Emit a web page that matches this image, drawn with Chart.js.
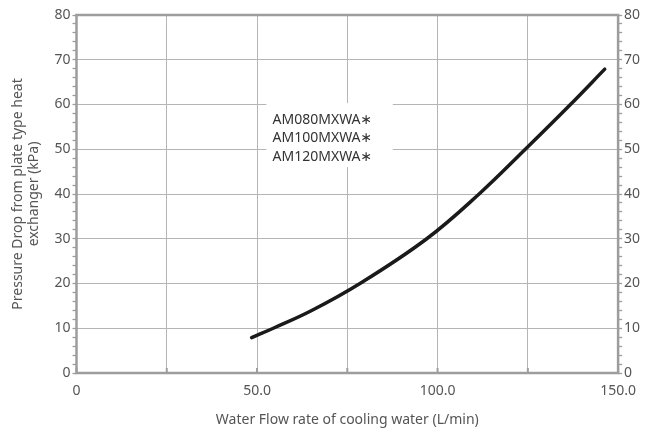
<!DOCTYPE html>
<html>
<head>
<meta charset="utf-8">
<script src="https://cdn.jsdelivr.net/npm/chart.js@4"></script>
<style>
html,body{margin:0;padding:0;background:#fff;}
#wrap{width:646px;height:430px;position:relative;}
</style>
</head>
<body>
<div id="wrap"><canvas id="c" width="646" height="430"></canvas></div>
<script>
// Data
const flowRates = [48.5, 54.5, 65, 78.5, 97, 111.5, 124.3, 136.8, 146.3];
const pressureDrops = [7.9, 10, 13.9, 20, 30, 40, 50, 60, 67.9];
const xTickLabels = {0: '0', 50: '50.0', 100: '100.0', 150: '150.0'};
const yTickLabels = [0, 10, 20, 30, 40, 50, 60, 70, 80];
const modelLabels = ['AM080MXWA\u2217', 'AM100MXWA\u2217', 'AM120MXWA\u2217'];
const xTitle = 'Water Flow rate of cooling water (L/min)';
const yTitle = ['Pressure Drop from plate type heat', 'exchanger (kPa)'];

const FONT = '"Noto Sans", "DejaVu Sans", sans-serif';
const AXIS = '#9d9d9d';
const GRID = '#b5b5b5';
const TXT = '#555555';

const framePlugin = {
  id: 'frame',
  afterDatasetsDraw(chart) {
    const {ctx, chartArea: a, scales} = chart;
    ctx.save();
    // label box (positioned in data coordinates)
    const x = scales.x, y = scales.y;
    const bx0 = x.getPixelForValue(52.6), bx1 = x.getPixelForValue(87.6);
    const by0 = y.getPixelForValue(60.3), by1 = y.getPixelForValue(46);
    ctx.fillStyle = '#fff';
    ctx.fillRect(bx0, by0, bx1 - bx0, by1 - by0);
    ctx.fillStyle = '#333';
    ctx.font = '14px ' + FONT;
    ctx.textBaseline = 'middle';
    ctx.textAlign = 'left';
    const tx = x.getPixelForValue(54.3);
    const ys = [56.5, 52.5, 48.3];
    modelLabels.forEach((t, i) => ctx.fillText(t, tx, y.getPixelForValue(ys[i])));
    // frame
    ctx.strokeStyle = AXIS;
    ctx.lineWidth = 2.5;
    ctx.strokeRect(a.left, a.top, a.right - a.left, a.bottom - a.top);
    // inner x ticks
    ctx.lineWidth = 2;
    x.ticks.forEach(t => {
      const px = x.getPixelForValue(t.value);
      ctx.beginPath(); ctx.moveTo(px, a.bottom); ctx.lineTo(px, a.bottom - 5); ctx.stroke();
    });
    ctx.restore();
  }
};

new Chart(document.getElementById('c'), {
  type: 'scatter',
  data: {
    datasets: [{
      data: flowRates.map((q, i) => ({x: q, y: pressureDrops[i]})),
      showLine: true,
      borderColor: '#1a1a1a',
      borderWidth: 3.5,
      borderCapStyle: 'round',
      pointRadius: 0,
      tension: 0.4,
      fill: false
    }]
  },
  options: {
    responsive: false,
    animation: false,
    devicePixelRatio: 1,
    layout: {padding: {top: 15, left: 0, right: 0, bottom: 0}},
    plugins: {legend: {display: false}, tooltip: {enabled: false}},
    scales: {
      x: {
        type: 'linear', min: 0, max: 150,
        afterFit(s) { s.height = 57; },
        border: {display: false},
        grid: {color: GRID, lineWidth: 1, drawTicks: false},
        ticks: {
          stepSize: 25, autoSkip: false, maxRotation: 0, padding: 10,
          color: TXT, font: {family: FONT, size: 14},
          callback: v => (v in xTickLabels ? xTickLabels[v] : '')
        },
        title: {display: true, text: xTitle, color: TXT, font: {family: FONT, size: 14}, padding: {top: 4, bottom: 2}}
      },
      y: {
        type: 'linear', position: 'left', min: 0, max: 80,
        afterFit(s) { s.width = 76.5; },
        border: {display: false},
        grid: {
          color: c => (yTickLabels.includes(c.tick.value) ? GRID : 'rgba(0,0,0,0)'),
          tickColor: AXIS, tickLength: 4, lineWidth: 1, tickWidth: 1.3
        },
        ticks: {
          stepSize: 2, autoSkip: false, padding: 2,
          color: TXT, font: {family: FONT, size: 14},
          callback: v => (yTickLabels.includes(v) ? String(v) : '')
        },
        title: {display: true, text: yTitle, color: TXT, font: {family: FONT, size: 14, lineHeight: 1.15}, padding: {top: 10, bottom: 0}}
      },
      y2: {
        type: 'linear', position: 'right', min: 0, max: 80,
        afterFit(s) { s.width = 27.5; },
        border: {display: false},
        grid: {drawOnChartArea: false, tickColor: AXIS, tickLength: 4, tickWidth: 1.3},
        ticks: {
          stepSize: 2, autoSkip: false, padding: 2,
          color: TXT, font: {family: FONT, size: 14},
          callback: v => (yTickLabels.includes(v) ? String(v) : '')
        }
      }
    }
  },
  plugins: [framePlugin]
});
</script>
</body>
</html>
